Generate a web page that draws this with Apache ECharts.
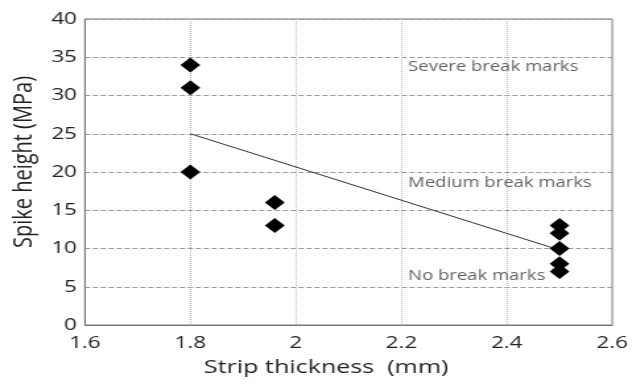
<!DOCTYPE html>
<html><head><meta charset="utf-8">
<script src="https://cdn.jsdelivr.net/npm/echarts@6/dist/echarts.min.js"></script>
<style>
html,body{margin:0;padding:0;background:#fff;overflow:hidden}
#wrap{width:632px;height:384px;overflow:hidden}
#c{width:479px;height:384px;transform:scaleX(1.3194);transform-origin:0 0}
</style>
</head><body><div id="wrap"><div id="c"></div></div>
<script>
var thickness = [1.8, 1.8, 1.8, 1.96, 1.96, 2.5, 2.5, 2.5, 2.5, 2.5];
var spikeHeight = [34, 31, 20, 16, 13, 13, 12, 10, 8, 7];
var trendX = [1.8, 2.5];
var trendY = [25, 9.8];
var annotations = ["Severe break marks", "Medium break marks", "No break marks"];
var annotationX = [2.213, 2.213, 2.213];
var annotationY = [33.7, 18.6, 6.4];

var font = "Open Sans";
var chart = echarts.init(document.getElementById('c'));
chart.setOption({
  animation: false,
  grid: {left: 63, right: 14, top: 19, bottom: 59, show: true, borderColor: '#777', borderWidth: 1, backgroundColor: '#fff'},
  xAxis: {
    type: 'value', min: 1.6, max: 2.6, interval: 0.2,
    name: 'Strip thickness  (mm)', nameLocation: 'middle', nameGap: 33,
    nameTextStyle: {fontFamily: font, fontSize: 19, color: '#222', padding: [0, 34, 0, 0]},
    axisLine: {show: true, lineStyle: {color: '#777'}},
    axisTick: {show: false},
    axisLabel: {fontFamily: font, fontSize: 17, color: '#222', margin: 10,
      formatter: function(v){ return (Math.round(v*10)/10).toString(); }},
    splitLine: {show: true, lineStyle: {color: '#bbb', type: 'dotted', width: 1}}
  },
  yAxis: {
    type: 'value', min: 0, max: 40, interval: 5,
    name: 'Spike height (MPa)', nameLocation: 'middle', nameGap: 27,
    nameTextStyle: {fontFamily: font, fontSize: 20, color: '#222', padding: [0, 0, 0, 20]},
    axisLine: {show: true, lineStyle: {color: '#777'}},
    axisTick: {show: false},
    axisLabel: {fontFamily: font, fontSize: 17, color: '#222', margin: 6},
    splitLine: {show: true, lineStyle: {color: '#999', type: [4, 2], width: 1}}
  },
  series: [
    {type: 'line', data: trendX.map(function(x,i){return [x, trendY[i]];}),
     symbol: 'none', lineStyle: {color: '#333', width: 1}, z: 2},
    {type: 'scatter', data: thickness.map(function(x,i){return [x, spikeHeight[i]];}),
     symbol: 'diamond', symbolSize: [15, 15], itemStyle: {color: '#000', opacity: 1}, z: 3},
    {type: 'scatter', data: annotationX.map(function(x,i){return [x, annotationY[i], annotations[i]];}),
     symbolSize: 0, itemStyle: {color: 'transparent'},
     label: {show: true, position: 'right', distance: 0, fontFamily: font, fontSize: 14, color: '#3a3a3a',
       formatter: function(p){ return p.data[2]; }}, z: 4}
  ]
});
</script></body></html>
